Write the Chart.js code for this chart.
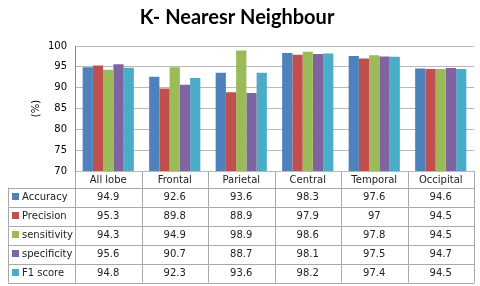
<!DOCTYPE html>
<html>
<head>
<meta charset="utf-8">
<script src="https://cdn.jsdelivr.net/npm/chart.js@4"></script>
<style>
  html, body { margin: 0; padding: 0; background: #fff; }
</style>
</head>
<body>
<canvas id="chart" width="480" height="286"></canvas>
<script>
const lobes = ['All lobe', 'Frontal', 'Parietal', 'Central', 'Temporal', 'Occipital'];
const accuracy = [94.9, 92.6, 93.6, 98.3, 97.6, 94.6];
const precision = [95.3, 89.8, 88.9, 97.9, 97, 94.5];
const sensitivity = [94.3, 94.9, 98.9, 98.6, 97.8, 94.5];
const specificity = [95.6, 90.7, 88.7, 98.1, 97.5, 94.7];
const f1Score = [94.8, 92.3, 93.6, 98.2, 97.4, 94.5];

const seriesNames = ['Accuracy', 'Precision', 'sensitivity', 'specificity', 'F1 score'];
const seriesValues = [accuracy, precision, sensitivity, specificity, f1Score];
const seriesColors = ['#4f81bd', '#c0504d', '#9bbb59', '#8064a2', '#4bacc6'];

const yMin = 70, yMax = 100, yStep = 5;

const FONT = 'DejaVu Sans';
const lineColor = '#a9a9a9';

// Excel-style data table drawn under the plot, aligned on the x scale
const dataTable = {
    id: 'dataTable',
    afterDraw: function(chart) {
        const ctx = chart.ctx;
        const xs = chart.scales.x;
        const area = chart.chartArea;
        const colW = (area.right - area.left) / lobes.length;
        const headTop = area.bottom;
        const headBot = headTop + 16.5;
        const rowH = 19;
        const tableLeft = 8;
        const bottom = headBot + rowH * seriesNames.length;

        ctx.save();
        ctx.strokeStyle = lineColor;
        ctx.lineWidth = 1;
        ctx.beginPath();
        for (let i = 0; i <= lobes.length; i++) {
            const px = Math.round(area.left + i * colW) + 0.5;
            ctx.moveTo(px, headTop);
            ctx.lineTo(px, bottom);
        }
        ctx.moveTo(tableLeft + 0.5, headBot);
        ctx.lineTo(tableLeft + 0.5, bottom);
        for (let r = 0; r <= seriesNames.length; r++) {
            const py = Math.round(headBot + r * rowH) + 0.5;
            ctx.moveTo(tableLeft, py);
            ctx.lineTo(Math.round(area.right) + 0.5, py);
        }
        ctx.stroke();

        ctx.font = '10px "' + FONT + '"';
        ctx.fillStyle = '#222';
        ctx.textBaseline = 'middle';
        ctx.textAlign = 'center';
        lobes.forEach((name, i) => {
            ctx.fillText(name, xs.getPixelForValue(i), (headTop + headBot) / 2 + 1);
        });

        seriesNames.forEach((name, r) => {
            const cy = headBot + r * rowH + rowH / 2;
            ctx.fillStyle = seriesColors[r];
            ctx.fillRect(tableLeft + 4, Math.round(cy) - 4, 7, 7);
            ctx.fillStyle = '#222';
            ctx.textAlign = 'left';
            ctx.fillText(name, tableLeft + 14, cy);
            ctx.textAlign = 'center';
            seriesValues[r].forEach((v, i) => {
                ctx.fillText(String(v), xs.getPixelForValue(i), cy);
            });
        });
        ctx.restore();
    }
};

new Chart(document.getElementById('chart'), {
    type: 'bar',
    data: {
        labels: lobes,
        datasets: seriesNames.map((name, i) => ({
            label: name,
            data: seriesValues[i],
            backgroundColor: seriesColors[i],
            borderWidth: 0,
            categoryPercentage: 0.77,
            barPercentage: 1
        }))
    },
    options: {
        responsive: false,
        animation: false,
        layout: { padding: { left: 0, right: 6, top: 0, bottom: 107 } },
        plugins: {
            legend: { display: false },
            tooltip: { enabled: false },
            title: {
                display: true,
                text: 'K- Nearesr Neighbour',
                color: '#000',
                font: { family: 'Lato', size: 20, weight: 'bold', lineHeight: 1.2 },
                padding: { top: 6, bottom: 16 }
            }
        },
        scales: {
            x: {
                ticks: { display: false },
                grid: { display: false },
                border: { display: false }
            },
            y: {
                min: yMin,
                max: yMax,
                ticks: {
                    stepSize: yStep,
                    color: '#000',
                    padding: 8,
                    font: { family: FONT, size: 10 }
                },
                grid: { color: '#b8b8b8', drawTicks: false },
                border: { color: '#8a8a8a' },
                title: {
                    display: true,
                    text: '(%)',
                    color: '#000',
                    font: { family: FONT, size: 10 },
                    padding: { top: 30, bottom: 0 }
                },
                afterFit: function(scale) { scale.width = 75; }
            }
        }
    },
    plugins: [dataTable]
});
</script>
</body>
</html>
